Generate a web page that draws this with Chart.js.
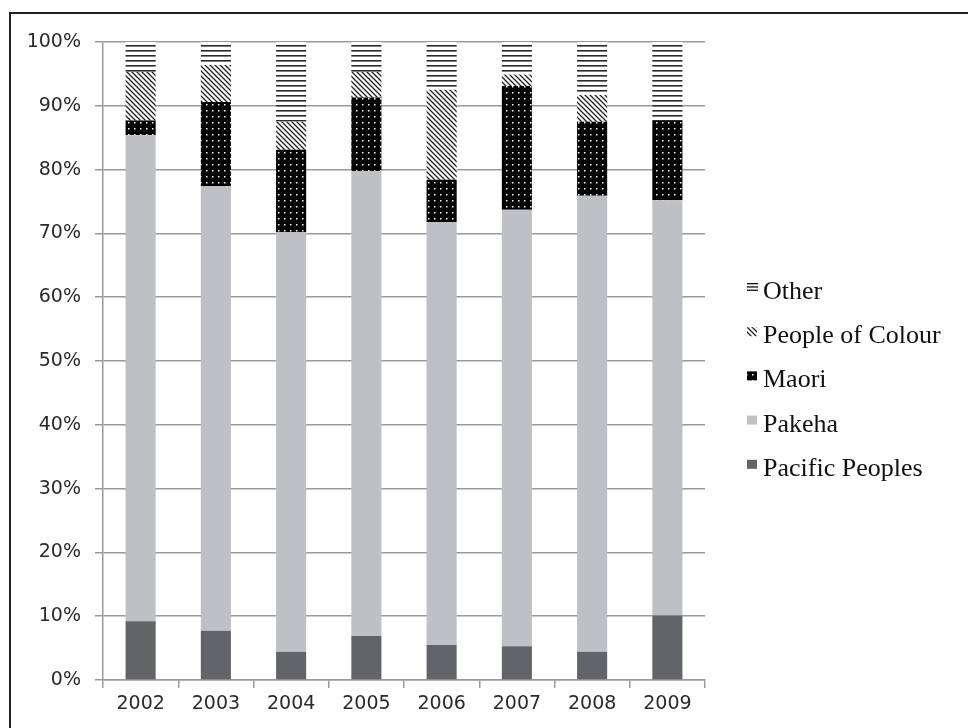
<!DOCTYPE html>
<html lang="en">
<head>
  <meta charset="UTF-8">
  <title>Ethnicity share by year</title>
  <style>
    body{margin:0;background:#fff;overflow:hidden}
    #wrap{position:relative;width:968px;height:728px}
    #frame{position:absolute;left:9px;top:12px;width:980px;height:740px;border-left:2px solid #222;border-top:2px solid #222;pointer-events:none}
  </style>
  <script src="https://cdn.jsdelivr.net/npm/chart.js"></script>
</head>
<body>
  <div id="wrap">
    <canvas id="chart" width="968" height="728"></canvas>
    <div id="frame"></div>
  </div>
  <script>
    const years    = ['2002','2003','2004','2005','2006','2007','2008','2009'];
    const pacific  = [9.2, 7.7, 4.4, 6.9, 5.5, 5.3, 4.4, 10.1];
    const pakeha   = [76.2, 69.7, 65.8, 72.9, 66.3, 68.4, 71.5, 65.1];
    const maori    = [2.3, 13.2, 12.9, 11.5, 6.6, 19.4, 11.6, 12.4];
    const colour   = [7.6, 5.8, 4.4, 4.0, 14.1, 1.8, 4.2, 0];
    const other    = [4.7, 3.6, 12.5, 4.7, 7.5, 5.1, 8.3, 12.4];
    const yTicks   = [0,10,20,30,40,50,60,70,80,90,100];

    function tile(w, h, draw){
      const c = document.createElement('canvas');
      c.width = w; c.height = h;
      draw(c.getContext('2d'));
      return document.getElementById('chart').getContext('2d').createPattern(c, 'repeat');
    }
    const hLines = tile(6, 5, g => {
      g.fillStyle = '#fff'; g.fillRect(0,0,6,5);
      g.fillStyle = '#2a2a2a'; g.fillRect(0,0,6,1.6);
    });
    const diag = tile(5, 5, g => {
      g.fillStyle = '#fff'; g.fillRect(0,0,5,5);
      g.strokeStyle = '#222'; g.lineWidth = 1.3;
      g.beginPath();
      g.moveTo(-1,-1); g.lineTo(6,6);
      g.moveTo(-1,4); g.lineTo(1,6);
      g.moveTo(4,-1); g.lineTo(6,1);
      g.stroke();
    });
    const dots = tile(6, 6, g => {
      g.fillStyle = '#000'; g.fillRect(0,0,6,6);
      g.fillStyle = '#fff'; g.fillRect(2,2,1.5,1.5);
    });

    const series = [
      { label:'Pacific Peoples',  data:pacific, backgroundColor:'#636468' },
      { label:'Pakeha',           data:pakeha,  backgroundColor:'#bfc0c4' },
      { label:'Maori',            data:maori,   backgroundColor:dots },
      { label:'People of Colour', data:colour,  backgroundColor:diag },
      { label:'Other',            data:other,   backgroundColor:hLines }
    ];

    // legend drawn by hand so the little boxes sit at cap height like the original
    const sideLegend = {
      id:'sideLegend',
      afterDraw(chart){
        const g = chart.ctx;
        g.save();
        g.font = '26px "Liberation Serif", "Times New Roman", serif';
        g.textBaseline = 'alphabetic';
        const items = chart.data.datasets.slice().reverse();
        items.forEach((ds, i) => {
          const base = 299 + i * 44.2;
          const bx = 747, by = base - 16;
          if (ds.label === 'Other') {
            g.fillStyle = '#111';
            for (let k = 0; k < 3; k++) g.fillRect(bx, by + k * 3.3, 11, 1.3);
          } else {
            g.fillStyle = ds.backgroundColor;
            g.fillRect(bx, by, 10, 9);
          }
          g.fillStyle = '#111';
          g.fillText(ds.label, 763, base);
        });
        g.restore();
      }
    };

    new Chart(document.getElementById('chart'), {
      type:'bar',
      data:{ labels:years, datasets:series },
      options:{
        responsive:false,
        animation:false,
        devicePixelRatio:1,
        layout:{ padding:{ left:0, top:42, right:263, bottom:0 } },
        datasets:{ bar:{ categoryPercentage:0.4, barPercentage:1, borderWidth:0 } },
        plugins:{ legend:{ display:false }, tooltip:{ enabled:false } },
        scales:{
          x:{
            stacked:true,
            afterFit(s){ s.height = 48; },
            grid:{ drawOnChartArea:false, offset:true, tickLength:8, color:'#9a9a9a', lineWidth:1.5 },
            border:{ color:'#9a9a9a', width:1.5 },
            ticks:{ color:'#2a2a2a', padding:5, font:{ family:'"DejaVu Sans"', size:19 } }
          },
          y:{
            stacked:true,
            min:0, max:100,
            afterFit(s){ s.width = 103; },
            afterBuildTicks(s){ s.ticks = yTicks.map(v => ({ value:v })); },
            grid:{ color:'#9a9a9a', lineWidth:1.5, tickLength:8 },
            border:{ color:'#9a9a9a', width:1.5 },
            ticks:{ color:'#2a2a2a', padding:14, font:{ family:'"DejaVu Sans"', size:19 }, callback:v => v + '%' }
          }
        }
      },
      plugins:[sideLegend]
    });
  </script>
</body>
</html>
